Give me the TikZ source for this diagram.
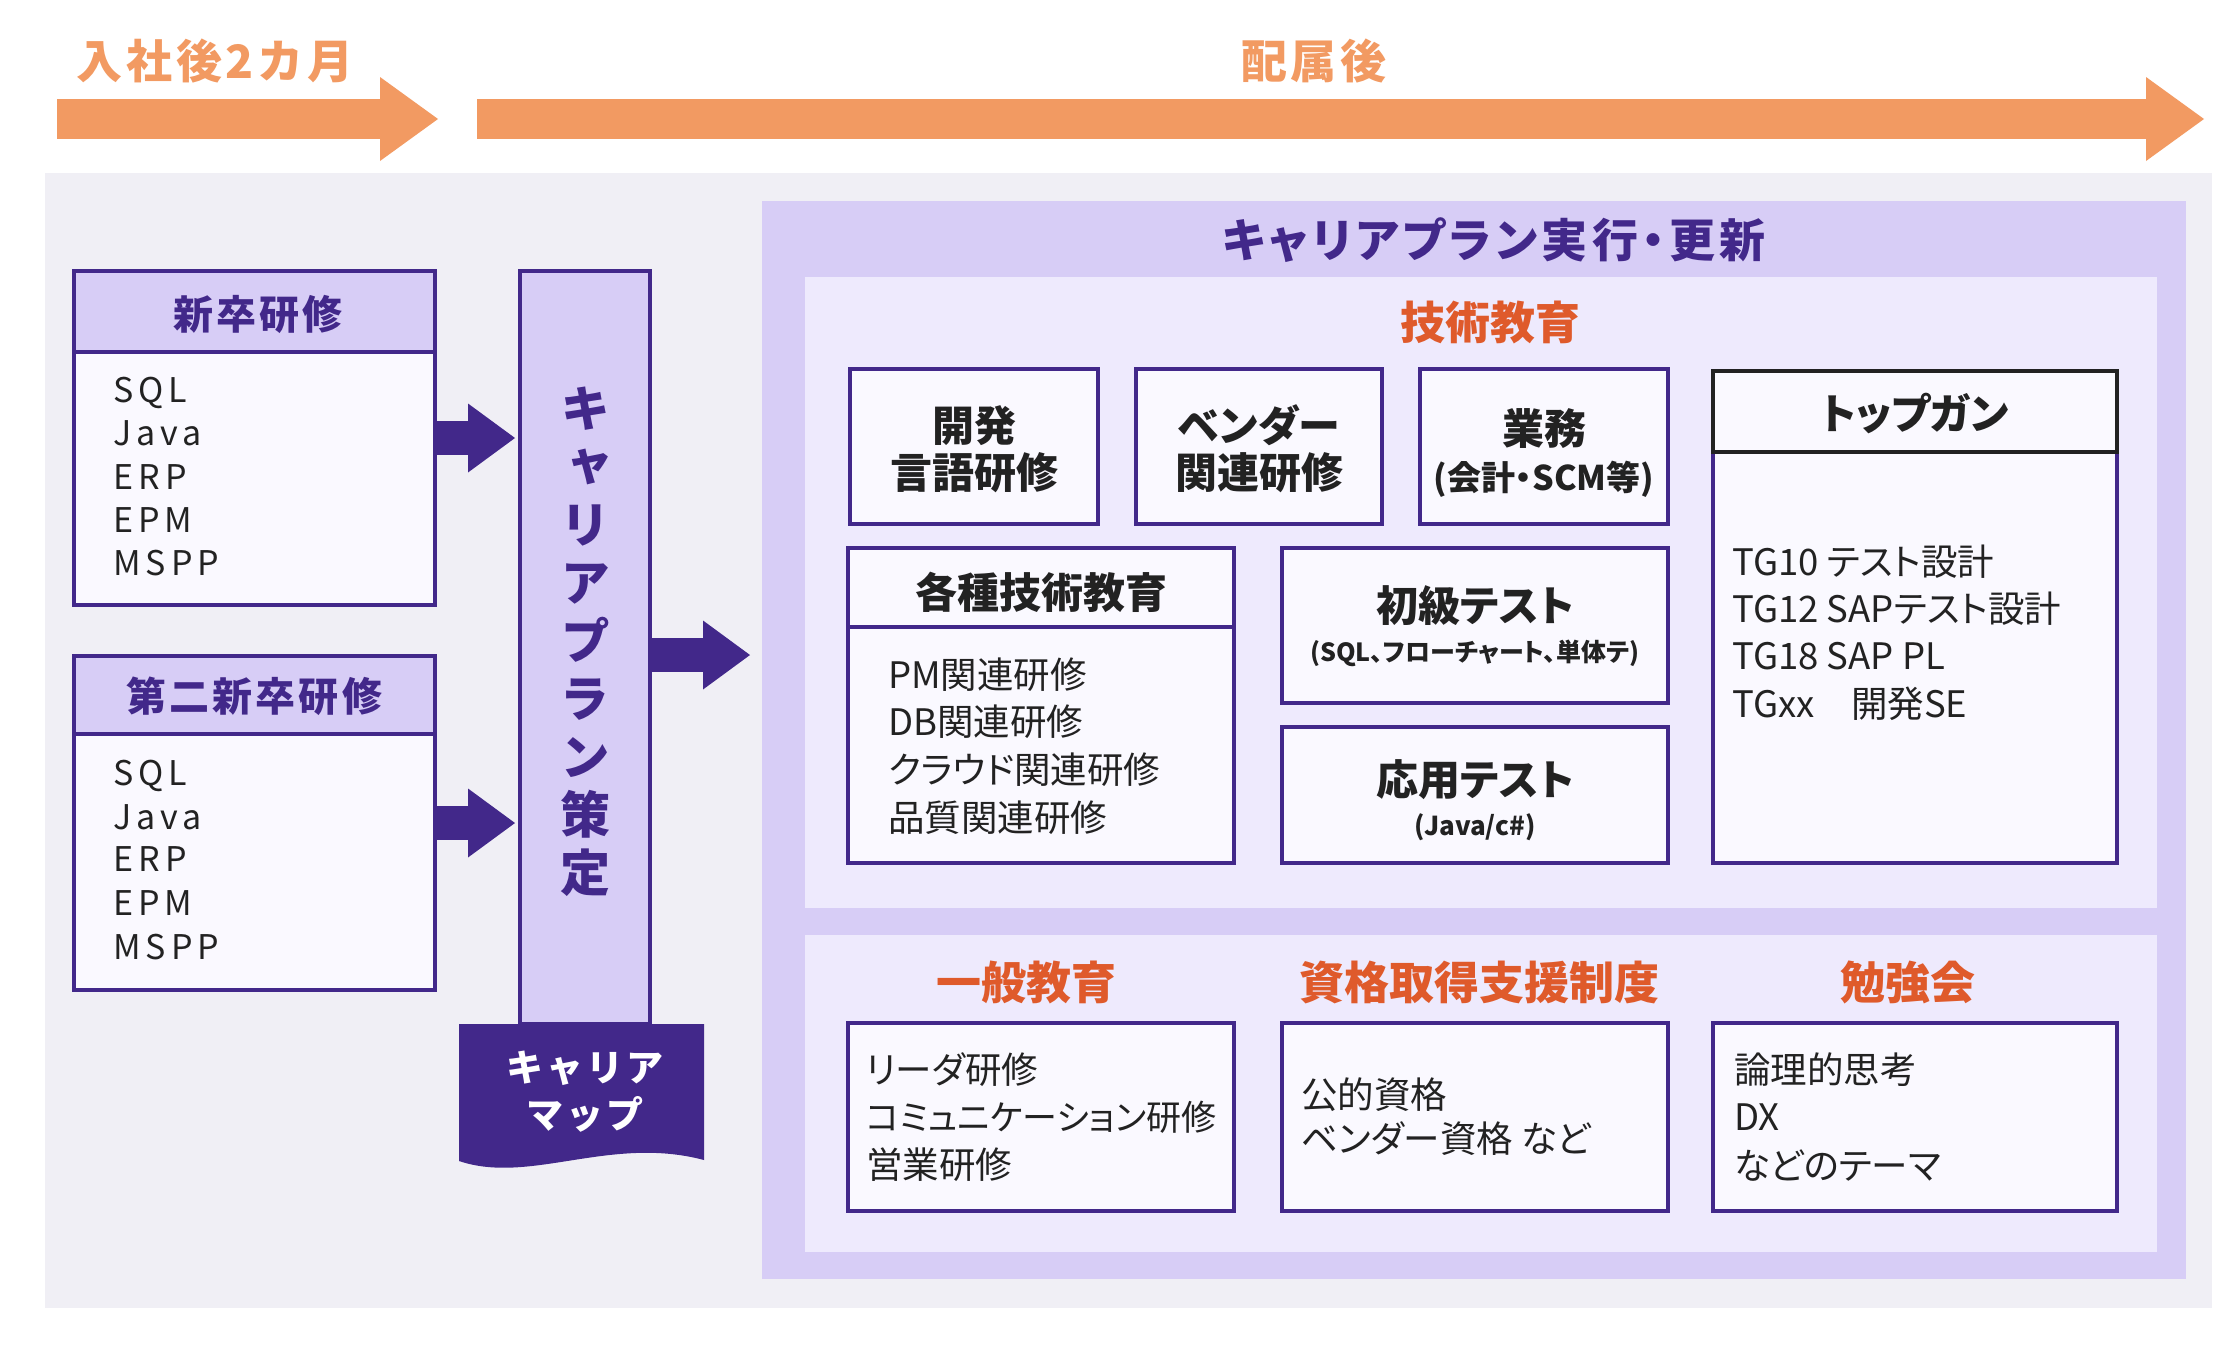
\documentclass[tikz,border=0pt]{standalone}
\usepackage{fontspec}
\setmainfont{Noto Sans CJK JP}[RawFeature=+palt]
\newfontfamily\jpwide{Noto Sans CJK JP}[LetterSpace=15]
\newfontfamily\jphead{Noto Sans CJK JP}[LetterSpace=8]
\newfontfamily\jptitle{Noto Sans CJK JP}[RawFeature=+palt,LetterSpace=9]
\newfontfamily\jpvert{Noto Sans CJK JP}[RawFeature=+vert]
\usetikzlibrary{arrows.meta}
\definecolor{bggray}{HTML}{F0EFF5}
\definecolor{lav}{HTML}{D7CDF6}
\definecolor{innerc}{HTML}{EEEAFD}
\definecolor{boxw}{HTML}{FAF9FF}
\definecolor{purp}{HTML}{42288A}
\definecolor{orgA}{HTML}{F29A62}
\definecolor{orgT}{HTML}{DF5A2B}
\definecolor{txt}{HTML}{222222}
\begin{document}
\begin{tikzpicture}[x=1pt,y=-1pt,
  area/.style={inner sep=0pt, outer sep=0pt, draw=none},
  box/.style={inner sep=0pt, outer sep=0pt, draw=purp, fill=boxw, line width=3.5pt},
  lbl/.style={inner sep=0pt, anchor=base},
  lst/.style={inner sep=0pt, anchor=base west, text=txt, font=\fontsize{36.5}{40}\selectfont},
  wlst/.style={inner sep=0pt, anchor=base west, text=txt, font=\jpwide\fontsize{34}{40}\selectfont},
  bhead/.style={lbl, text=txt, font=\bfseries\fontsize{42}{48}\selectfont},
  ohead/.style={lbl, text=orgT, font=\bfseries\fontsize{45}{50}\selectfont},
  oarrow/.style={draw=orgA, line width=40pt, -{Triangle[length=58pt 0 0,width=84pt 0 0,line width=0pt 0 0]}},
  parrow/.style={draw=purp, line width=34pt, -{Triangle[length=47pt 0 0,width=69pt 0 0,line width=0pt 0 0]}}
]
\useasboundingbox (0,0) rectangle (2240,1344);
\fill[white] (0,0) rectangle (2240,1344);

% top arrows
\coordinate (o1s) at (57,119); \coordinate (o1e) at (438,119);
\coordinate (o2s) at (477,119); \coordinate (o2e) at (2204,119);
\draw[oarrow] (o1s) -- (o1e);
\draw[oarrow] (o2s) -- (o2e);
\node[name=toplab1, lbl, text=orgA, font=\jphead\bfseries\fontsize{46}{52}\selectfont] at (215,78.5) {入社後2カ月};
\node[name=toplab2, lbl, text=orgA, font=\jphead\bfseries\fontsize{46}{52}\selectfont] at (1314,78.5) {配属後};

% backgrounds
\node[name=bg, area, fill=bggray, minimum width=2167pt, minimum height=1135pt] at (1128.5,740.5) {};
\node[name=panel, area, fill=lav, minimum width=1424pt, minimum height=1078pt] at (1474,740) {};
\node[name=in1, area, fill=innerc, minimum width=1352pt, minimum height=631pt] at (1481,592.5) {};
\node[name=in2, area, fill=innerc, minimum width=1352pt, minimum height=317pt] at (1481,1093.5) {};

\node[name=ptitle, lbl, text=purp, font=\jptitle\bfseries\fontsize{46}{50}\selectfont] at (1494,257) {キャリアプラン実行・更新};
\node[name=h1, ohead] at (1490,339) {技術教育};

% top row boxes
\node[name=kaihatsu, box, minimum width=248pt, minimum height=155pt] at (974,446.5) {};
\node[name=vendor, box, minimum width=246pt, minimum height=155pt] at (1259,446.5) {};
\node[name=gyomu, box, minimum width=248pt, minimum height=155pt] at (1544,446.5) {};
\node[name=kaihatsuA, bhead] at (974,441) {開発};
\node[name=kaihatsuB, bhead] at (974,488) {言語研修};
\node[name=vendorA, bhead] at (1259,441) {ベンダー};
\node[name=vendorB, bhead] at (1259,488) {関連研修};
\node[name=gyomuA, bhead] at (1544,444) {業務};
\node[name=gyomuB, lbl, text=txt, font=\bfseries\fontsize{34}{40}\selectfont] at (1544,490) {(会計・SCM等)};

% topgun
\node[name=topgun, box, minimum width=404pt, minimum height=492pt] at (1915,617) {};
\node[name=topgunH, box, draw=txt, minimum width=404pt, minimum height=81pt] at (1915,411.5) {};
\node[name=topgunT, bhead] at (1915,429) {トップガン};
\node[name=tg1, lst] at (1732,575) {TG10 テスト設計};
\node[name=tg2, lst] at (1732,622) {TG12 SAPテスト設計};
\node[name=tg3, lst] at (1732,669) {TG18 SAP PL};
\node[name=tg4, lst] at (1732,717) {TGxx　開発SE};

% kakushu
\node[name=kakushu, box, minimum width=386pt, minimum height=315pt] at (1041,705.5) {};
\node[name=kakushuH, box, minimum width=386pt, minimum height=79pt] at (1041,587.5) {};
\node[name=kakushuT, bhead] at (1041,608) {各種技術教育};
\node[name=k1, lst] at (888,688) {PM関連研修};
\node[name=k2, lst] at (888,735) {DB関連研修};
\node[name=k3, lst] at (888,783) {クラウド関連研修};
\node[name=k4, lst] at (888,831) {品質関連研修};

% tests
\node[name=shokyu, box, minimum width=386pt, minimum height=155pt] at (1475,625.5) {};
\node[name=shokyuA, bhead] at (1475,621) {初級テスト};
\node[name=shokyuB, lbl, text=txt, font=\bfseries\fontsize{25}{30}\selectfont] at (1475,661) {(SQL、フローチャート、単体テ)};
\node[name=oyo, box, minimum width=386pt, minimum height=136pt] at (1475,795) {};
\node[name=oyoA, bhead] at (1475,795) {応用テスト};
\node[name=oyoB, lbl, text=txt, font=\bfseries\fontsize{26}{32}\selectfont] at (1475,835) {(Java/c\#)};

% bottom panel
\node[name=h2, ohead] at (1026,999) {一般教育};
\node[name=h3, ohead] at (1479,999) {資格取得支援制度};
\node[name=h4, ohead] at (1908,999) {勉強会};
\node[name=ippan, box, minimum width=386pt, minimum height=188pt] at (1041,1117) {};
\node[name=shikaku, box, minimum width=386pt, minimum height=188pt] at (1475,1117) {};
\node[name=benkyo, box, minimum width=404pt, minimum height=188pt] at (1915,1117) {};
\node[name=ip1, lst] at (866,1083) {リーダ研修};
\node[name=ip2, lst, font=\fontsize{35}{40}\selectfont] at (866,1130) {コミュニケーション研修};
\node[name=ip3, lst] at (866,1178) {営業研修};
\node[name=sk1, lst] at (1301,1108) {公的資格};
\node[name=sk2, lst] at (1301,1152) {ベンダー資格 など};
\node[name=bk1, lst] at (1734,1083) {論理的思考};
\node[name=bk2, lst] at (1734,1130) {DX};
\node[name=bk3, lst] at (1734,1179) {などのテーマ};

% left boxes
\node[name=shin, box, minimum width=361pt, minimum height=334pt] at (254.5,438) {};
\node[name=shinH, box, fill=lav, minimum width=361pt, minimum height=81pt] at (254.5,311.5) {};
\node[name=shinT, lbl, text=purp, font=\jphead\bfseries\fontsize{40}{46}\selectfont] at (258,329) {新卒研修};
\node[name=s1, wlst] at (113,402) {SQL};
\node[name=s2, wlst] at (113,445) {Java};
\node[name=s3, wlst] at (113,489) {ERP};
\node[name=s4, wlst] at (113,532) {EPM};
\node[name=s5, wlst] at (113,575) {MSPP};

\node[name=daini, box, minimum width=361pt, minimum height=334pt] at (254.5,823) {};
\node[name=dainiH, box, fill=lav, minimum width=361pt, minimum height=78pt] at (254.5,695) {};
\node[name=dainiT, lbl, text=purp, font=\jphead\bfseries\fontsize{40}{46}\selectfont] at (254,711) {第二新卒研修};
\node[name=d1, wlst] at (113,785) {SQL};
\node[name=d2, wlst] at (113,829) {Java};
\node[name=d3, wlst] at (113,871) {ERP};
\node[name=d4, wlst] at (113,915) {EPM};
\node[name=d5, wlst] at (113,959) {MSPP};

% career plan column
\node[name=col, box, fill=lav, minimum width=130pt, minimum height=753pt] at (585,647.5) {};
\foreach \c [count=\i from 0] in {キ,ャ,リ,ア,プ,ラ,ン,策,定}
  \node[name=v\i, lbl, text=purp, font=\jpvert\bfseries\fontsize{50}{56}\selectfont] at (585,{408+58*\i+19}) {\c};

% career map banner
\fill[purp] (459,1024) -- (704,1024) -- (704,1160) .. controls (610,1135) and (530,1185) .. (459,1161) -- cycle;
\node[name=map1, lbl, text=white, font=\jphead\bfseries\fontsize{37}{42}\selectfont] at (585,1081) {キャリア};
\node[name=map2, lbl, text=white, font=\jphead\bfseries\fontsize{37}{42}\selectfont] at (585,1128) {マップ};

% block arrows
\draw[parrow, shorten >=5pt] (shin.east) -- (col.west |- shin.east);
\draw[parrow, shorten >=5pt] (daini.east) -- (col.west |- daini.east);
\coordinate (a3s) at (col.east |- 0,655);
\draw[parrow, shorten >=12pt] (a3s) -- (panel.west |- a3s);
\end{tikzpicture}
\end{document}
